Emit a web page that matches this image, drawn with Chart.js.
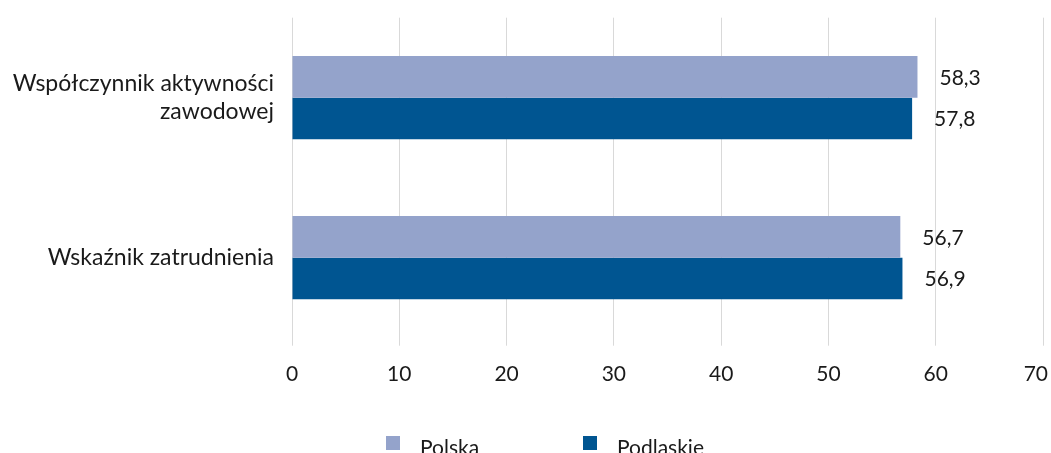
<!DOCTYPE html>
<html lang="pl">
<head>
<meta charset="utf-8">
<title>Współczynnik aktywności zawodowej i wskaźnik zatrudnienia</title>
<script src="https://cdn.jsdelivr.net/npm/chart.js@4/dist/chart.umd.min.js"></script>
<style>
  html, body { margin: 0; padding: 0; background: #fff; }
  #wrap { width: 1051px; height: 453px; overflow: hidden; }
</style>
</head>
<body>
<div id="wrap"><canvas id="chart" width="1051" height="453"></canvas></div>
<script>
const categories = [['Współczynnik aktywności', 'zawodowej'], 'Wskaźnik zatrudnienia'];
const seriesNames = ['Polska', 'Podlaskie'];
const polska = [58.3, 56.7];
const podlaskie = [57.8, 56.9];
const seriesColors = ['#94a3cb', '#005591'];
const xTicks = [0, 10, 20, 30, 40, 50, 60, 70];

const FONT = 'Lato, "Open Sans", sans-serif';
const TEXT = '#1a1a1a';

const valueLabels = {
    id: 'valueLabels',
    afterDatasetsDraw(chart) {
        const ctx = chart.ctx;
        ctx.save();
        ctx.font = '21px ' + FONT;
        ctx.fillStyle = TEXT;
        ctx.textAlign = 'left';
        ctx.textBaseline = 'middle';
        chart.data.datasets.forEach((ds, i) => {
            chart.getDatasetMeta(i).data.forEach((bar, j) => {
                const txt = ds.data[j].toFixed(1).replace('.', ',');
                ctx.fillText(txt, bar.x + 22, bar.y + 1);
            });
        });
        ctx.restore();
    }
};

// x tick labels drawn here so the last one ("70") is pulled in instead of clipped
const xTickLabels = {
    id: 'xTickLabels',
    afterDraw(chart) {
        const ctx = chart.ctx;
        const xs = chart.scales.x;
        ctx.save();
        ctx.font = '21px ' + FONT;
        ctx.fillStyle = TEXT;
        ctx.textAlign = 'center';
        ctx.textBaseline = 'middle';
        xTicks.forEach(v => {
            const txt = String(v);
            const w = ctx.measureText(txt).width;
            let x = xs.getPixelForValue(v);
            x = Math.min(x, chart.width - w / 2 - 3);
            ctx.fillText(txt, x, 374);
        });
        ctx.restore();
    }
};

// legend drawn by hand: Excel style spacing is wider than Chart.js allows
const bottomLegend = {
    id: 'bottomLegend',
    afterDraw(chart) {
        const ctx = chart.ctx;
        ctx.save();
        ctx.font = '21px ' + FONT;
        ctx.textBaseline = 'middle';
        ctx.textAlign = 'left';
        chart.data.datasets.forEach((ds, i) => {
            const x = 386 + i * 197;
            ctx.fillStyle = ds.backgroundColor;
            ctx.fillRect(x, 436, 14, 14);
            ctx.fillStyle = TEXT;
            ctx.fillText(ds.label, x + 34, 448);
        });
        ctx.restore();
    }
};

const ctx = document.getElementById('chart').getContext('2d');
new Chart(ctx, {
    type: 'bar',
    data: {
        labels: categories,
        datasets: [
            { label: seriesNames[0], data: polska, backgroundColor: seriesColors[0] },
            { label: seriesNames[1], data: podlaskie, backgroundColor: seriesColors[1] }
        ]
    },
    options: {
        indexAxis: 'y',
        responsive: false,
        animation: false,
        layout: { padding: { top: 17.7, left: 0, right: 8, bottom: 0 } },
        datasets: {
            bar: { categoryPercentage: 0.52, barPercentage: 1.0 }
        },
        scales: {
            x: {
                min: 0,
                max: 70,
                afterBuildTicks: (scale) => {
                    scale.ticks = xTicks.map(v => ({ value: v }));
                },
                afterFit: (scale) => {
                    scale.height = 453 - 337.7;
                    scale.paddingLeft = 0;
                    scale.paddingRight = 0;
                },
                border: { display: false },
                grid: { color: '#d9d9d9', lineWidth: 1, tickLength: 8, drawTicks: true },
                ticks: { display: false }
            },
            y: {
                afterFit: (scale) => {
                    scale.width = 292;
                    scale.paddingTop = 0;
                    scale.paddingBottom = 0;
                },
                border: { display: false },
                grid: { display: false },
                ticks: {
                    color: TEXT,
                    font: { family: FONT, size: 23, lineHeight: 1.22 },
                    padding: 10
                }
            }
        },
        plugins: {
            legend: { display: false },
            tooltip: { enabled: false }
        }
    },
    plugins: [valueLabels, xTickLabels, bottomLegend]
});
</script>
</body>
</html>
